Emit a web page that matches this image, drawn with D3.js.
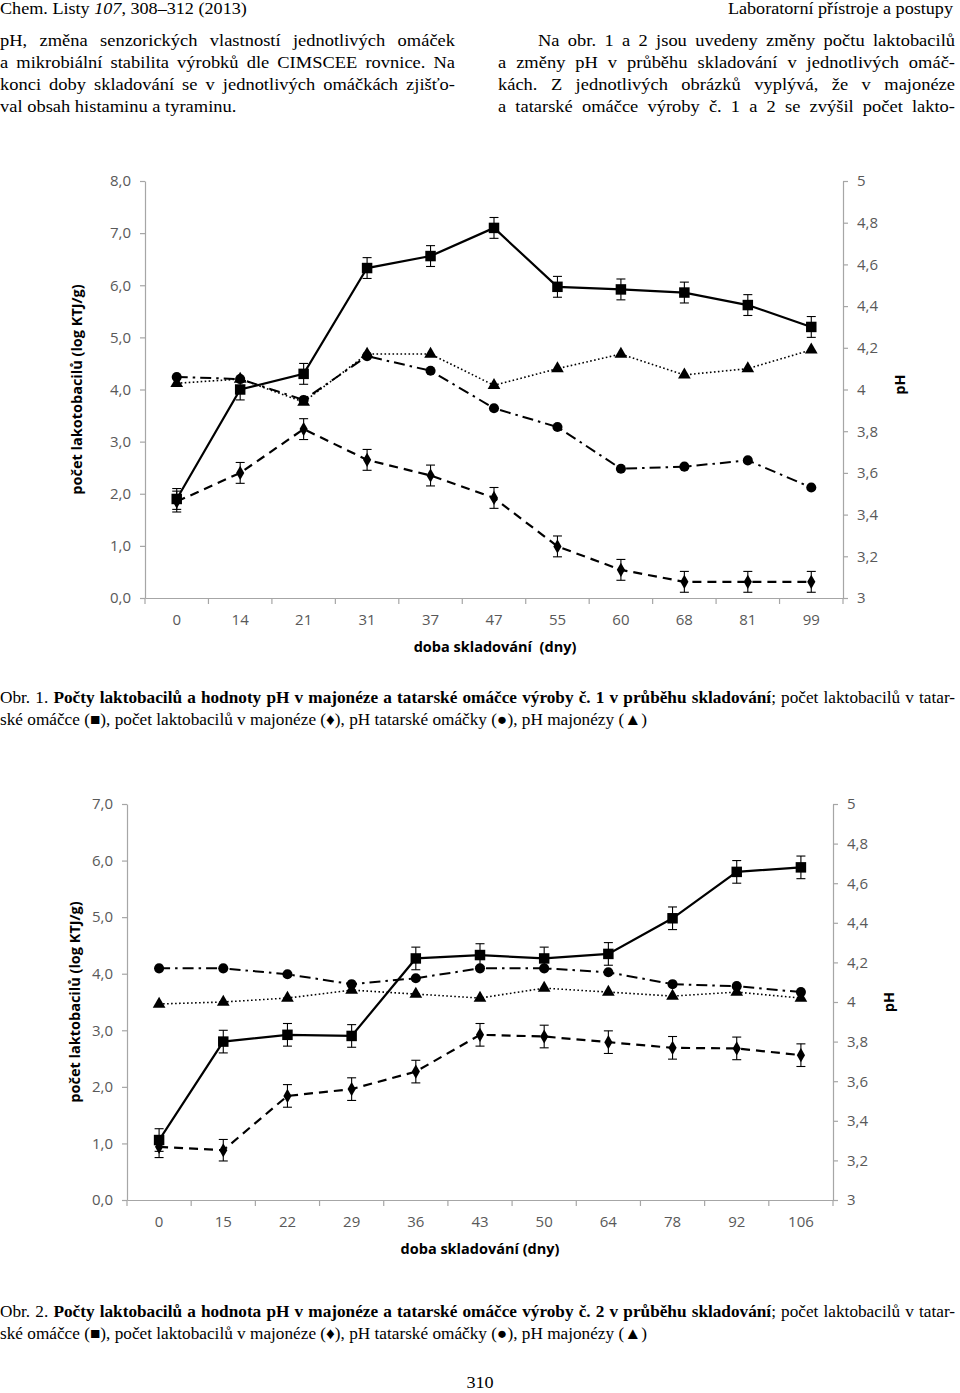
<!DOCTYPE html>
<html><head><meta charset="utf-8">
<script src="https://cdn.jsdelivr.net/npm/d3@7"></script>
<style>html,body{margin:0;padding:0;background:#fff;}svg{display:block;}</style>
</head><body>
<svg id="page" width="960" height="1393"></svg>
<script>
// ---------- DATA ----------
const days1 = ["0","14","21","31","37","47","55","60","68","81","99"];
const tatarCount1 = [1.9, 4.0, 4.3, 6.33, 6.56, 7.1, 5.97, 5.92, 5.86, 5.62, 5.2];
const tatarErr1   = [0.2, 0.2, 0.2, 0.2, 0.2, 0.2, 0.2, 0.2, 0.2, 0.2, 0.2];
const majCount1   = [1.85, 2.4, 3.24, 2.65, 2.35, 1.92, 0.99, 0.54, 0.31, 0.31, 0.31];
const majErr1     = [0.2, 0.2, 0.2, 0.2, 0.2, 0.2, 0.2, 0.2, 0.2, 0.2, 0.2];
const tatarPH1    = [4.06, 4.05, 3.95, 4.16, 4.09, 3.91, 3.82, 3.62, 3.63, 3.66, 3.53];
const majPH1      = [4.03, 4.05, 3.94, 4.17, 4.17, 4.02, 4.10, 4.17, 4.07, 4.10, 4.19];

const days2 = ["0","15","22","29","36","43","50","64","78","92","106"];
const tatarCount2 = [1.06, 2.80, 2.92, 2.90, 4.27, 4.33, 4.27, 4.35, 4.98, 5.80, 5.88];
const tatarErr2   = [0.2, 0.2, 0.2, 0.2, 0.2, 0.2, 0.2, 0.2, 0.2, 0.2, 0.2];
const majCount2   = [0.94, 0.88, 1.84, 1.96, 2.27, 2.92, 2.89, 2.79, 2.69, 2.68, 2.56];
const majErr2     = [0.19, 0.19, 0.2, 0.2, 0.2, 0.2, 0.2, 0.2, 0.2, 0.2, 0.2];
const tatarPH2    = [4.17, 4.17, 4.14, 4.09, 4.12, 4.17, 4.17, 4.15, 4.09, 4.08, 4.05];
const majPH2      = [3.99, 4.00, 4.02, 4.06, 4.04, 4.02, 4.07, 4.05, 4.03, 4.05, 4.02];

const phTicks = [3, 3.2, 3.4, 3.6, 3.8, 4, 4.2, 4.4, 4.6, 4.8, 5];

const headerLeft = ["Chem. Listy ", "107", ", 308–312 (2013)"];
const headerRight = "Laboratorní přístroje a postupy";
const leftCol = [
  "pH, změna senzorických vlastností jednotlivých omáček",
  "a mikrobiální stabilita výrobků dle CIMSCEE rovnice. Na",
  "konci doby skladování se v jednotlivých omáčkách zjišťo-",
  "val obsah histaminu a tyraminu."
];
const rightCol = [
  "Na obr. 1 a 2 jsou uvedeny změny počtu laktobacilů",
  "a změny pH v průběhu skladování v jednotlivých omáč-",
  "kách. Z jednotlivých obrázků vyplývá, že v majonéze",
  "a tatarské omáčce výroby č. 1 a 2 se zvýšil počet lakto-"
];
const caption1 = [["Obr. 1. ", false], ["Počty laktobacilů a hodnoty pH v majonéze a tatarské omáčce výroby č. 1 v průběhu skladování", true], ["; počet laktobacilů v tatar-", false]];
const caption2 = [["Obr. 2. ", false], ["Počty laktobacilů a hodnota pH v majonéze a tatarské omáčce výroby č. 2 v průběhu skladování", true], ["; počet laktobacilů v tatar-", false]];
const captionLine2 = "ské omáčce (■), počet laktobacilů v majonéze (♦), pH tatarské omáčky (●), pH majonézy (▲)";
const pageNumber = "310";

// ---------- DRAW ----------
const svg = d3.select("#page");
svg.append("rect").attr("width",960).attr("height",1393).attr("fill","#fff");
const SERIF = "'Liberation Serif','Times New Roman',serif";
const SANS = "'Open Sans','Noto Sans',sans-serif";

// text placed inside a horizontally stretched group (reference typeface is wider)
function stext(x, y, sx, size, anchor){
  const g = svg.append("g").attr("transform",`translate(${x},${y}) scale(${sx},1)`);
  return g.append("text").attr("x",0).attr("y",0).attr("font-family",SERIF).attr("font-size",size)
    .attr("text-anchor",anchor||"start").attr("fill","#000");
}
function justify(textSel, width, sx){
  const node = textSel.node();
  const len = node.getComputedTextLength();
  const str = node.textContent;
  const spaces = (str.match(/ /g)||[]).length;
  if (spaces>0) textSel.attr("word-spacing", (width/sx-len)/spaces);
}

// header
const HS = 1.1;
const hl = stext(0, 14, HS, 16.5);
hl.append("tspan").text(headerLeft[0]);
hl.append("tspan").attr("font-style","italic").text(headerLeft[1]);
hl.append("tspan").text(headerLeft[2]);
stext(953, 14, HS, 16.5, "end").text(headerRight);

// body columns
const BS = 1.12;
const bodyY = [46, 68, 90, 112];
leftCol.forEach((s,i)=>{
  const t = stext(0, bodyY[i], BS, 16.5).text(s);
  if (i<leftCol.length-1) justify(t, 455, BS);
});
rightCol.forEach((s,i)=>{
  const x0 = i===0 ? 538 : 498;
  const t = stext(x0, bodyY[i], BS, 16.5).text(s);
  justify(t, 955-x0, BS);
});

function fmtPH(d){ const r = Math.round(d*10)/10; return (r%1===0) ? String(r) : r.toFixed(1).replace(".",","); }

function drawChart(cfg){
  const g = svg.append("g");
  const x = d3.scaleBand().domain(cfg.days).range([cfg.xL, cfg.xR]);
  const yL = d3.scaleLinear().domain([0, cfg.maxL]).range([cfg.yB, cfg.yT]);
  const yR = d3.scaleLinear().domain([3, 5]).range([cfg.yB, cfg.yT]);
  const cx = d => x(d) + x.bandwidth()/2;
  const axisCol = "#a6a6a6", labCol = "#595959";

  const aL = g.append("g").attr("transform",`translate(${cfg.xL},0)`)
    .call(d3.axisLeft(yL).tickValues(d3.range(0,cfg.maxL+1)).tickSize(5).tickSizeOuter(0).tickPadding(9)
      .tickFormat(d=>d.toFixed(1).replace(".",",")));
  const aR = g.append("g").attr("transform",`translate(${cfg.xR},0)`)
    .call(d3.axisRight(yR).tickValues(phTicks).tickSize(5).tickSizeOuter(0).tickPadding(9).tickFormat(fmtPH));
  const aB = g.append("g").attr("transform",`translate(0,${cfg.yB})`)
    .call(d3.axisBottom(x).tickSize(0).tickSizeOuter(0).tickPadding(16));
  [aL,aR,aB].forEach(a=>{
    a.select(".domain").attr("stroke",axisCol).attr("stroke-width",1.2);
    a.selectAll(".tick line").attr("stroke",axisCol).attr("stroke-width",1.2);
    a.selectAll(".tick text").attr("fill",labCol).attr("font-family",SANS).attr("font-size",15);
  });
  const bounds = d3.range(cfg.days.length+1).map(i=> cfg.xL + i*x.step());
  g.selectAll(".bt").data(bounds).join("line").attr("x1",d=>d).attr("x2",d=>d)
    .attr("y1",cfg.yB).attr("y2",cfg.yB+6).attr("stroke",axisCol).attr("stroke-width",1.2);

  g.append("text").attr("transform",`translate(${cfg.ltX},${(cfg.yT+cfg.yB)/2+cfg.ltDY}) rotate(-90)`)
    .attr("text-anchor","middle").attr("font-family",SANS).attr("font-weight","bold").attr("font-size",14.5).text(cfg.leftTitle);
  g.append("text").attr("transform",`translate(${cfg.rtX},${(cfg.yT+cfg.yB)/2+cfg.rtDY}) rotate(-90)`)
    .attr("text-anchor","middle").attr("font-family",SANS).attr("font-weight","bold").attr("font-size",14.5).text("pH");
  g.append("text").attr("x",cfg.btX).attr("y",cfg.yB+54).attr("text-anchor","middle")
    .attr("font-family",SANS).attr("font-weight","bold").attr("font-size",14.5).attr("xml:space","preserve").text(cfg.bottomTitle);

  function line(vals, scale, dash, width){
    g.append("path").datum(vals).attr("fill","none").attr("stroke","#000").attr("stroke-width",width)
      .attr("stroke-dasharray",dash)
      .attr("d", d3.line().x((d,i)=>cx(cfg.days[i])).y(d=>scale(d)));
  }
  function errs(vals, err, scale){
    vals.forEach((v,i)=>{
      const px = cx(cfg.days[i]);
      const y1 = scale(v+err[i]), y2 = scale(v-err[i]);
      g.append("line").attr("x1",px).attr("x2",px).attr("y1",y1).attr("y2",y2).attr("stroke","#000").attr("stroke-width",1.1);
      [y1,y2].forEach(yy=> g.append("line").attr("x1",px-4.5).attr("x2",px+4.5).attr("y1",yy).attr("y2",yy).attr("stroke","#000").attr("stroke-width",1.1));
    });
  }
  function marks(vals, scale, type, size){
    g.selectAll(null).data(vals).join("path")
      .attr("transform",(d,i)=>`translate(${cx(cfg.days[i])},${scale(d)})`)
      .attr("d", d3.symbol().type(type).size(size)).attr("fill","#000");
  }
  line(cfg.majPH, yR, "1.6,2.4", 1.6);
  line(cfg.tatarPH, yR, "11,5,2.5,5", 2);
  line(cfg.majCount, yL, "9,6", 2.2);
  line(cfg.tatarCount, yL, null, 2.2);
  errs(cfg.majCount, cfg.majErr, yL);
  errs(cfg.tatarCount, cfg.tatarErr, yL);
  marks(cfg.majPH, yR, d3.symbolTriangle, 70);
  marks(cfg.tatarPH, yR, d3.symbolCircle, 80);
  marks(cfg.majCount, yL, d3.symbolDiamond, 58);
  marks(cfg.tatarCount, yL, d3.symbolSquare, 110);
}

drawChart({days:days1, xL:145, xR:843, yT:181, yB:598, maxL:8,
  tatarCount:tatarCount1, tatarErr:tatarErr1, majCount:majCount1, majErr:majErr1, tatarPH:tatarPH1, majPH:majPH1,
  leftTitle:"počet lakotobacilů (log KTJ/g)", ltX:82, ltDY:0, rtX:905, rtDY:-5,
  bottomTitle:"doba skladování  (dny)", btX:495});

drawChart({days:days2, xL:127, xR:833, yT:804, yB:1200, maxL:7,
  tatarCount:tatarCount2, tatarErr:tatarErr2, majCount:majCount2, majErr:majErr2, tatarPH:tatarPH2, majPH:majPH2,
  leftTitle:"počet laktobacilů (log KTJ/g)", ltX:80, ltDY:0, rtX:894, rtDY:0,
  bottomTitle:"doba skladování (dny)", btX:480});

// captions
const CS = 1.045;
function caption(parts, y1, y2){
  const t = stext(0, y1, CS, 16.5);
  parts.forEach(p=> t.append("tspan").attr("font-weight", p[1]?"bold":"normal").text(p[0]));
  justify(t, 955, CS);
  stext(0, y2, CS, 16.5).text(captionLine2);
}
caption(caption1, 703, 725);
caption(caption2, 1317, 1339);

stext(480, 1388, HS, 16.5, "middle").text(pageNumber);
</script>
</body></html>
